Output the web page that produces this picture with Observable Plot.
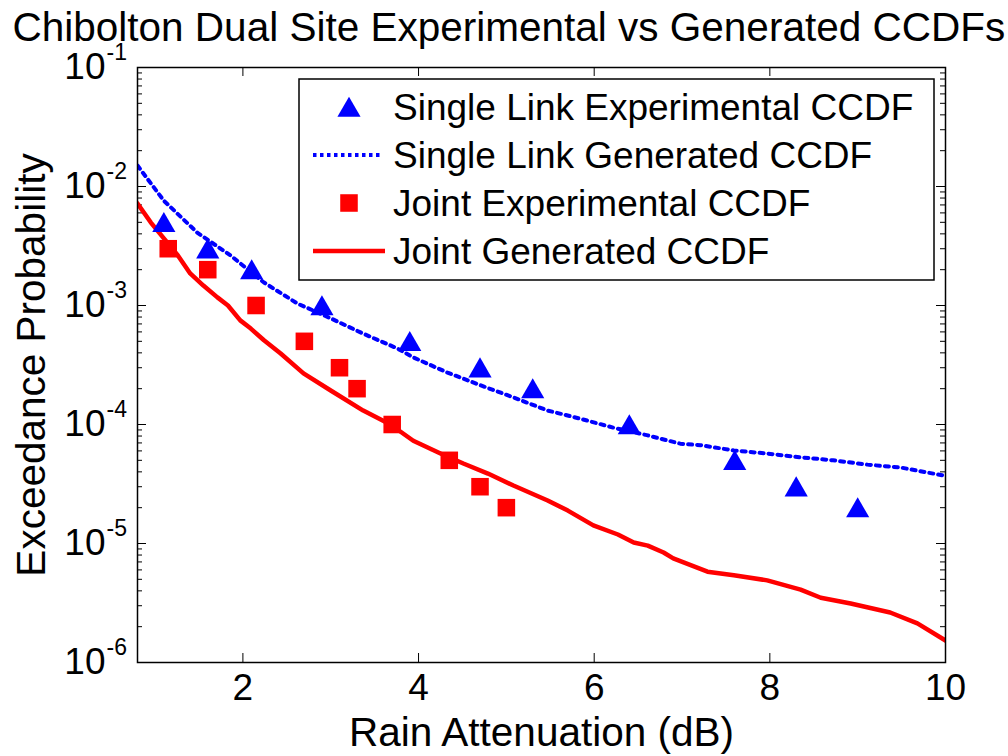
<!DOCTYPE html>
<html>
<head>
<meta charset="utf-8">
<script src="https://cdn.jsdelivr.net/npm/d3@7"></script>
<script src="https://cdn.jsdelivr.net/npm/@observablehq/plot@0.6"></script>
<style>
  html, body { margin: 0; padding: 0; background: #ffffff; }
  #chart svg { display: block; }
</style>
</head>
<body>
<div id="chart"></div>
<script>
// ---------- data ----------
const titleText = "Chibolton Dual Site Experimental vs Generated CCDFs";
const xLabel = "Rain Attenuation (dB)";
const yLabel = "Exceedance Probability";
const legendLabels = [
  "Single Link Experimental CCDF",
  "Single Link Generated CCDF",
  "Joint Experimental CCDF",
  "Joint Generated CCDF"
];

const xTicks = [2, 4, 6, 8, 10];
const yMajorTicks = [1e-1, 1e-2, 1e-3, 1e-4, 1e-5, 1e-6];
const yMinorTicks = [];
for (let e = -6; e <= -2; e++) for (let m = 2; m <= 9; m++) yMinorTicks.push(m * Math.pow(10, e));

const singleExpX = [1.1, 1.6, 2.1, 2.9, 3.9, 4.7, 5.3, 6.4, 7.6, 8.3, 9.0];
const singleExpP = [5e-3, 3e-3, 2e-3, 1e-3, 5e-4, 3e-4, 2e-4, 1e-4, 5e-5, 3e-5, 2e-5];

const jointExpX = [1.15, 1.6, 2.15, 2.7, 3.1, 3.3, 3.7, 4.35, 4.7, 5.0];
const jointExpP = [3e-3, 2e-3, 1e-3, 5e-4, 3e-4, 2e-4, 1e-4, 5e-5, 3e-5, 2e-5];

const singleGenX = [0.8, 1.1, 1.48, 1.86, 2.24, 2.62, 3.0, 3.37, 3.76, 3.94, 4.33, 4.71, 5.08, 5.47, 5.84, 6.22, 6.61, 6.98, 7.21, 7.59, 7.97, 8.35, 8.72, 9.11, 9.49, 10];
const singleGenP = [1.5e-2, 7.6e-3, 4.1e-3, 2.63e-3, 1.56e-3, 1.04e-3, 7.8e-4, 5.8e-4, 4.35e-4, 3.66e-4, 2.73e-4, 2.13e-4, 1.69e-4, 1.31e-4, 1.12e-4, 9.4e-5, 8.1e-5, 6.9e-5, 6.7e-5, 6.05e-5, 5.7e-5, 5.3e-5, 5.0e-5, 4.6e-5, 4.35e-5, 3.7e-5];

const jointGenX = [0.8, 0.95, 1.1, 1.26, 1.4, 1.55, 1.71, 1.83, 1.97, 2.09, 2.24, 2.43, 2.69, 3.0, 3.37, 3.68, 3.94, 4.25, 4.51, 4.79, 5.08, 5.47, 5.7, 5.99, 6.27, 6.45, 6.61, 6.79, 6.9, 7.29, 7.59, 7.97, 8.35, 8.58, 8.92, 9.37, 9.68, 10];
const jointGenP = [7.2e-3, 5.0e-3, 3.66e-3, 2.63e-3, 1.86e-3, 1.47e-3, 1.17e-3, 1.0e-3, 7.5e-4, 6.4e-4, 5.1e-4, 3.95e-4, 2.69e-4, 1.93e-4, 1.31e-4, 1.0e-4, 7.3e-5, 5.7e-5, 4.7e-5, 3.87e-5, 3.07e-5, 2.3e-5, 1.89e-5, 1.42e-5, 1.19e-5, 1.02e-5, 9.6e-6, 8.4e-6, 7.5e-6, 5.8e-6, 5.4e-6, 4.9e-6, 4.1e-6, 3.5e-6, 3.13e-6, 2.63e-6, 2.13e-6, 1.53e-6];

// ---------- tables ----------
const zip = (xs, ps) => xs.map((x, i) => ({x, p: ps[i]}));
const singleExp = zip(singleExpX, singleExpP);
const jointExp = zip(jointExpX, jointExpP);
const singleGen = zip(singleGenX, singleGenP);
const jointGen = zip(jointGenX, jointGenP);

// ---------- layout ----------
const W = 1008, H = 756;
const mL = 137, mT = 67, mR = 63, mB = 94;
const pw = W - mL - mR, ph = H - mT - mB;
const BLUE = "#0000ff", RED = "#ff0000";
const FONT = "Liberation Sans, Arial, Helvetica, sans-serif";

const chart = Plot.plot({
  width: W, height: H,
  marginLeft: mL, marginTop: mT, marginRight: mR, marginBottom: mB,
  style: {fontFamily: FONT, background: "#ffffff", color: "#000000", overflow: "visible"},
  x: {domain: [0.8, 10], label: null},
  y: {type: "log", domain: [1e-6, 1e-1], axis: null, label: null},
  marks: [
    // tick marks (inward, on all four sides)
    Plot.tickY(yMajorTicks, {y: d => d, insetRight: pw - 9, stroke: "#000", strokeWidth: 1}),
    Plot.tickY(yMinorTicks, {y: d => d, insetRight: pw - 5, stroke: "#000", strokeWidth: 1}),
    Plot.tickY(yMajorTicks, {y: d => d, insetLeft: pw - 9, stroke: "#000", strokeWidth: 1}),
    Plot.tickY(yMinorTicks, {y: d => d, insetLeft: pw - 5, stroke: "#000", strokeWidth: 1}),
    Plot.tickX(xTicks, {x: d => d, insetTop: ph - 9, stroke: "#000", strokeWidth: 1}),
    Plot.tickX(xTicks, {x: d => d, insetBottom: ph - 9, stroke: "#000", strokeWidth: 1}),
    // series
    Plot.line(singleGen, {x: "x", y: "p", stroke: BLUE, strokeWidth: 4, strokeDasharray: "4,5", clip: true}),
    Plot.line(jointGen, {x: "x", y: "p", stroke: RED, strokeWidth: 4.5, clip: true}),
    Plot.dot(singleExp, {x: "x", y: "p", symbol: "triangle", r: 8.6, fill: BLUE, stroke: "none", dy: 3}),
    Plot.dot(jointExp, {x: "x", y: "p", symbol: "square", r: 9.9, fill: RED, stroke: "none"}),
    Plot.frame({stroke: "#000", strokeWidth: 1.5}),
    // x axis labels
    Plot.axisX({ticks: xTicks, tickSize: 0, tickPadding: 11, fontSize: 37, label: null, tickFormat: d => String(d)}),
    // y axis labels 10^n
    Plot.text(yMajorTicks, {y: d => d, frameAnchor: "left", text: () => "10", textAnchor: "end", dx: -32, fontSize: 37, lineAnchor: "middle"}),
    Plot.text(yMajorTicks, {y: d => d, frameAnchor: "left", text: d => String(Math.round(Math.log10(d))), textAnchor: "start", dx: -31, dy: -8, fontSize: 23, lineAnchor: "bottom"}),
    // axis titles
    Plot.text([xLabel], {frameAnchor: "bottom", dy: 83, lineAnchor: "bottom", textAnchor: "middle", fontSize: 40.5}),
    Plot.text([yLabel], {frameAnchor: "left", dx: -93, rotate: -90, lineAnchor: "bottom", textAnchor: "middle", fontSize: 40.5}),
    Plot.text([titleText], {frameAnchor: "top-left", dx: -125, dy: -27, textAnchor: "start", lineAnchor: "bottom", fontSize: 40.5})
  ]
});

// ---------- legend (inside the axes, upper right) ----------
const svg = d3.select(chart);
const lg = svg.append("g").attr("font-family", FONT).attr("text-anchor", "start");
lg.append("rect").attr("x", 299).attr("y", 79).attr("width", 635).attr("height", 201)
  .attr("fill", "#fff").attr("stroke", "#000").attr("stroke-width", 1.5);
const rowY = [107, 155, 203, 251];
const triSize = Math.PI * 8.6 * 8.6;
const sqSize = Math.PI * 9.9 * 9.9;
lg.append("path").attr("d", d3.symbol(d3.symbolTriangle, triSize)())
  .attr("transform", `translate(349,${rowY[0] + 3})`).attr("fill", BLUE);
lg.append("line").attr("x1", 313).attr("x2", 381).attr("y1", rowY[1]).attr("y2", rowY[1])
  .attr("stroke", BLUE).attr("stroke-width", 4).attr("stroke-dasharray", "3.5,3.5");
lg.append("path").attr("d", d3.symbol(d3.symbolSquare, sqSize)())
  .attr("transform", `translate(349,${rowY[2]})`).attr("fill", RED);
lg.append("line").attr("x1", 313).attr("x2", 385).attr("y1", rowY[3]).attr("y2", rowY[3])
  .attr("stroke", RED).attr("stroke-width", 4.5);
legendLabels.forEach((t, i) => {
  lg.append("text").attr("x", 393).attr("y", rowY[i]).attr("dy", "0.36em")
    .attr("text-anchor", "start").attr("font-size", 37).attr("fill", "#000").text(t);
});

document.getElementById("chart").appendChild(chart);
</script>
</body>
</html>
